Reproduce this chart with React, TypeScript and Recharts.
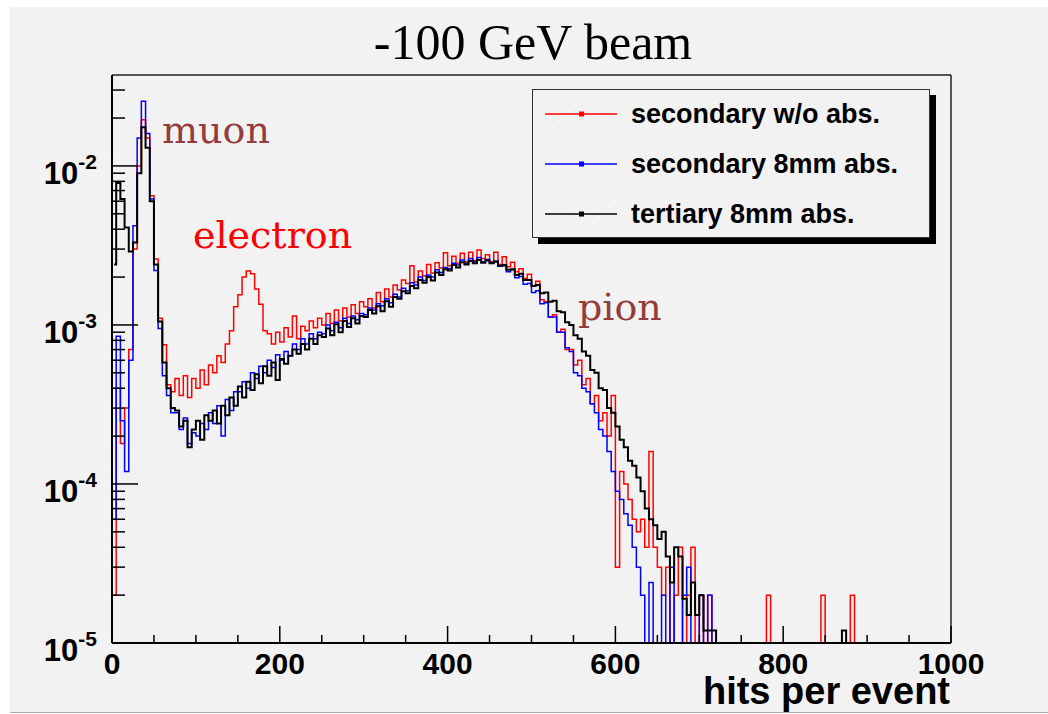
import { LineChart, Line, XAxis, YAxis, Legend, ReferenceLine, ReferenceDot } from 'recharts'

// hits-per-event histograms, 5-hit bins from 0 to 900, entries in units of 1e-5 (0 = empty bin)
const UNIT = 1e-5
const EMPTY = 3e-6 // below the axis floor, clipped away like an empty ROOT bin
const BIN_W = 5
const N_BINS = 180

const RED = [
  2, 40, 18, 30, 70, 300, 1000, 1950, 1500, 650,
  260, 110, 75, 42, 38, 46, 36, 48, 35, 46,
  40, 52, 42, 56, 50, 64, 58, 76, 92, 130,
  155, 200, 218, 210, 168, 135, 92, 88, 76, 90,
  78, 96, 84, 114, 82, 98, 92, 106, 96, 110,
  100, 118, 102, 124, 106, 128, 112, 134, 118, 140,
  130, 146, 128, 160, 140, 168, 150, 178, 166, 192,
  182, 236, 186, 218, 204, 240, 212, 246, 228, 284,
  236, 270, 244, 282, 250, 286, 254, 296, 262, 276,
  250, 286, 240, 268, 232, 248, 216, 226, 196, 208,
  176, 188, 144, 140, 112, 116, 90, 94, 70, 70,
  56, 60, 42, 46, 32, 36, 25, 28, 20, 36,
  3, 12, 10, 8, 6, 5, 6, 4, 16, 4,
  3, 2, 3, 0, 2, 4, 0, 2, 4, 0,
  2, 0, 2, 0, 0, 0, 0, 0, 0, 0,
  0, 0, 0, 0, 0, 0, 2, 0, 0, 0,
  0, 0, 0, 0, 0, 0, 0, 0, 0, 2,
  0, 0, 0, 0, 0, 0, 2, 0, 0, 0,
]

const BLUE = [
  6, 85, 25, 12, 60, 420, 1500, 2550, 1600, 620,
  220, 95, 48, 36, 28, 28, 22, 26, 18, 21,
  20, 24, 22, 28, 24, 31, 20, 34, 29, 38,
  38, 44, 40, 50, 46, 55, 50, 60, 54, 65,
  60, 68, 64, 76, 70, 82, 76, 88, 82, 90,
  88, 100, 92, 104, 96, 110, 102, 114, 108, 118,
  116, 128, 124, 136, 132, 146, 138, 156, 150, 170,
  164, 184, 178, 200, 190, 206, 200, 222, 214, 230,
  226, 244, 238, 256, 244, 262, 250, 266, 250, 258,
  246, 252, 234, 236, 216, 222, 198, 202, 180, 182,
  160, 164, 136, 138, 112, 112, 90, 90, 72, 68,
  50, 48, 40, 38, 32, 28, 22, 20, 16, 12,
  9, 8, 6.5, 5.5, 4, 3, 2, 0, 2.4, 0,
  0, 2, 0, 3, 0, 0, 2, 3, 0, 0,
  2, 0, 2, 0, 0, 0, 0, 0, 0, 0,
  0, 0, 0, 0, 0, 0, 0, 0, 0, 0,
  0, 0, 0, 0, 0, 0, 0, 0, 0, 0,
  0, 0, 0, 0, 0, 0, 0, 0, 0, 0,
]

const BLACK = [
  240, 780, 620, 410, 290, 330, 900, 1750, 1300, 600,
  240, 105, 58, 40, 30, 29, 23, 25, 17, 22,
  25, 19, 27, 25, 29, 24, 31, 27, 35, 31,
  41, 35, 44, 39, 49, 43, 55, 48, 58, 45,
  61, 57, 64, 70, 66, 76, 70, 82, 76, 86,
  84, 95, 86, 101, 90, 106, 97, 110, 102, 114,
  112, 124, 118, 131, 122, 141, 130, 150, 146, 163,
  158, 176, 170, 192, 184, 200, 190, 214, 206, 224,
  220, 238, 230, 248, 240, 252, 244, 256, 246, 254,
  244, 250, 236, 238, 222, 224, 206, 210, 192, 192,
  176, 178, 158, 160, 140, 142, 122, 120, 104, 100,
  86, 82, 68, 64, 52, 50, 40, 39, 30, 28,
  23, 19, 17, 14, 13, 11, 9, 7, 6, 5.5,
  4.5, 5, 3.5, 2.4, 4, 3.5, 1.9, 1.5, 2.4, 1.5,
  2, 1.2, 1.2, 1.2, 0, 0, 0, 0, 0, 0,
  0, 0, 0, 0, 0, 0, 0, 0, 0, 0,
  0, 0, 0, 0, 0, 0, 0, 0, 0, 0,
  0, 0, 0, 0, 1.2, 0, 0, 0, 0, 0,
]

const SERIES = [
  { key: 'red', name: 'secondary w/o abs.', color: '#ff0000', width: 1.5 },
  { key: 'blue', name: 'secondary 8mm abs.', color: '#0000ff', width: 1.5 },
  { key: 'black', name: 'tertiary 8mm abs.', color: '#000000', width: 2 },
]

const X_TICKS = [0, 50, 100, 150, 200, 250, 300, 350, 400, 450, 500, 550, 600, 650, 700, 750, 800, 850, 900, 950, 1000]
const Y_TICKS = [
  1e-5, 2e-5, 3e-5, 4e-5, 5e-5, 6e-5, 7e-5, 8e-5, 9e-5,
  1e-4, 2e-4, 3e-4, 4e-4, 5e-4, 6e-4, 7e-4, 8e-4, 9e-4,
  1e-3, 2e-3, 3e-3, 4e-3, 5e-3, 6e-3, 7e-3, 8e-3, 9e-3,
  1e-2, 2e-2, 3e-2,
]
const Y_MAX = 0.0373

const toY = (u: number) => (u > 0 ? u * UNIT : EMPTY)
const rows = Array.from({ length: N_BINS }, (_, i) => ({
  x: BIN_W * i + BIN_W / 2,
  red: toY(RED[i]),
  blue: toY(BLUE[i]),
  black: toY(BLACK[i]),
}))

const SANS = '"Liberation Sans", Arial, Helvetica, sans-serif'
const SERIF = '"DejaVu Serif", serif'

function XTick({ x, y, payload }: any) {
  const v = payload.value
  const major = v % 200 === 0
  return (
    <g>
      <line x1={x} x2={x} y1={y} y2={y - (major ? 17 : 8)} stroke="#000" strokeWidth={1.5} />
      {major && (
        <text x={x} y={y + 31} textAnchor="middle" fontFamily={SANS} fontWeight="bold" fontSize={30} fill="#000">{v}</text>
      )}
    </g>
  )
}

function YTick({ x, y, payload }: any) {
  const lg = Math.log10(payload.value)
  const exp = Math.round(lg)
  const major = Math.abs(lg - exp) < 1e-6
  return (
    <g>
      <line x1={x} x2={x + (major ? 26 : 13)} y1={y} y2={y} stroke="#000" strokeWidth={1.5} />
      {major && (
        <text x={x - 15} y={y + 18} textAnchor="end" fontFamily={SANS} fontWeight="bold" fontSize={31} fill="#000">
          10<tspan dy={-15} fontSize={21}>{exp}</tspan>
        </text>
      )}
    </g>
  )
}

function LegendBox({ payload }: any) {
  // keep the drawing order of the series rather than the legend's sorted order
  const items = [...(payload || [])].sort(
    (a: any, b: any) => SERIES.findIndex(s => s.name === a.value) - SERIES.findIndex(s => s.name === b.value),
  )
  return (
    <div style={{ width: 398, height: 149, boxSizing: 'border-box', background: '#f2f2f2', border: '1.5px solid #333', boxShadow: '6px 6px 0 #000' }}>
      <svg width={396} height={146} style={{ display: 'block' }}>
        <defs>
          <pattern id="hatch" width={8} height={8} patternUnits="userSpaceOnUse" patternTransform="rotate(45)">
            <line x1={0} y1={0} x2={0} y2={8} stroke="#fbfbfb" strokeWidth={1.2} />
          </pattern>
        </defs>
        {items.map((p: any, i: number) => {
          const cy = 24 + i * 50
          return (
            <g key={p.value}>
              <rect x={11} y={cy - 17} width={74} height={34} fill="url(#hatch)" />
              <line x1={12} x2={84} y1={cy} y2={cy} stroke={p.color} strokeWidth={1.5} />
              <rect x={46} y={cy - 2.5} width={5} height={5} fill={p.color} />
              <text x={98} y={cy + 9} fontFamily={SANS} fontWeight="bold" fontSize={27} fill="#000">{p.value}</text>
            </g>
          )
        })}
      </svg>
    </div>
  )
}

function Note({ viewBox, text, color }: any) {
  return <text x={viewBox.x} y={viewBox.y} fill={color} fontFamily={SERIF} fontSize={38}>{text}</text>
}

export default function App() {
  return (
    <div style={{ position: 'absolute', left: 0, top: 0, width: 1048, height: 714, background: '#fff' }}>
      <div style={{ position: 'absolute', left: 10, top: 7, width: 1038, height: 705, background: '#f2f2f2', borderBottom: '1.5px solid #aaa' }} />
      <div style={{ position: 'absolute', left: 0, width: 1066, top: 13, textAlign: 'center', fontFamily: '"Liberation Serif", "Times New Roman", serif', fontSize: 50, lineHeight: '58px', color: '#000' }}>
        -100 GeV beam
      </div>
      <div style={{ position: 'absolute', left: 0, top: 0 }}>
        <LineChart width={1048} height={714} data={rows} margin={{ top: 75, left: 111, right: 97, bottom: 70 }}>
          <XAxis
            dataKey="x" type="number" domain={[0, 1000]} allowDataOverflow ticks={X_TICKS} interval={0}
            height={1} tickLine={false} tickSize={0} tickMargin={0} tick={<XTick />}
            axisLine={{ stroke: '#000', strokeWidth: 2 }}
          />
          <YAxis
            type="number" scale="log" domain={[1e-5, Y_MAX]} allowDataOverflow ticks={Y_TICKS} interval={0}
            width={1} tickLine={false} tickSize={0} tickMargin={0} tick={<YTick />}
            axisLine={{ stroke: '#000', strokeWidth: 2 }}
          />
          <ReferenceLine y={Y_MAX} stroke="#222" strokeWidth={1.5} />
          <ReferenceLine x={1000} stroke="#222" strokeWidth={1.5} />
          {SERIES.map(s => (
            <Line key={s.key} type="step" dataKey={s.key} name={s.name} stroke={s.color} strokeWidth={s.width}
              dot={false} activeDot={false} isAnimationActive={false} />
          ))}
          <ReferenceDot x={59.6} y={0.01395} r={0} label={<Note text="muon" color="#943c3c" />} />
          <ReferenceDot x={96.5} y={0.00305} r={0} label={<Note text="electron" color="#ff0000" />} />
          <ReferenceDot x={555.4} y={0.001076} r={0} label={<Note text="pion" color="#943c3c" />} />
          <Legend layout="vertical" align="center" verticalAlign="middle" content={<LegendBox />}
            wrapperStyle={{ left: 532, top: 89, width: 398, height: 149 }} />
        </LineChart>
      </div>
      <div style={{ position: 'absolute', right: 98, top: 681, fontFamily: SANS, fontWeight: 'bold', fontSize: 38, lineHeight: '20px', color: '#000', whiteSpace: 'nowrap' }}>
        hits per event
      </div>
    </div>
  )
}
